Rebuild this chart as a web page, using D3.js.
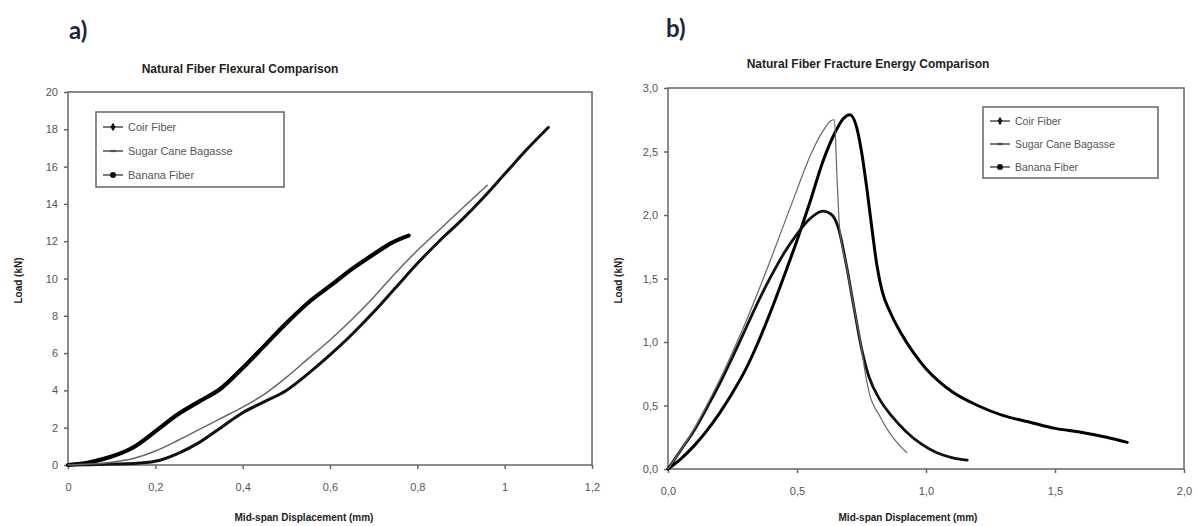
<!DOCTYPE html>
<html>
<head>
<meta charset="utf-8">
<script src="https://cdn.jsdelivr.net/npm/d3@7"></script>
<style>
  body { margin: 0; background: #fff; }
  svg { font-family: Arial, "Liberation Sans", sans-serif; }
  .axis path, .axis line { stroke: #666; stroke-width: 1.5; }
  .axis text { fill: #555; font-size: 11px; }
</style>
</head>
<body>
<svg id="chart" width="1197" height="526"></svg>
<script>
// series names shared by both panels
const seriesNames = ["Coir Fiber", "Sugar Cane Bagasse", "Banana Fiber"]

// panel a) flexural load vs displacement, [mm, kN]
const coirFlex = [[0,0],[0.05,0.02],[0.1,0.05],[0.15,0.08],[0.2,0.2],[0.25,0.6],[0.3,1.2],[0.35,2.0],[0.4,2.8],[0.45,3.4],[0.5,4.0],[0.55,4.9],[0.6,5.9],[0.65,7.0],[0.7,8.2],[0.75,9.5],[0.8,10.8],[0.85,12.0],[0.9,13.1],[0.95,14.3],[1.0,15.6],[1.05,16.9],[1.1,18.1]]
const sugarFlex = [[0,0],[0.05,0.05],[0.1,0.15],[0.15,0.35],[0.2,0.75],[0.25,1.3],[0.3,1.9],[0.35,2.5],[0.4,3.1],[0.45,3.8],[0.5,4.7],[0.55,5.7],[0.6,6.7],[0.65,7.8],[0.7,9.0],[0.75,10.3],[0.8,11.5],[0.85,12.6],[0.9,13.7],[0.96,15.0]]
const bananaFlex = [[0,0],[0.05,0.15],[0.1,0.45],[0.15,0.95],[0.2,1.8],[0.25,2.7],[0.3,3.4],[0.35,4.1],[0.4,5.2],[0.45,6.4],[0.5,7.6],[0.55,8.7],[0.6,9.6],[0.65,10.5],[0.7,11.3],[0.74,11.9],[0.78,12.3]]
const flexXTicks = [0, 0.2, 0.4, 0.6, 0.8, 1, 1.2]
const flexYTicks = [0, 2, 4, 6, 8, 10, 12, 14, 16, 18, 20]

// panel b) fracture energy load vs displacement, [mm, kN]
const coirFrac = [[0,0],[0.05,0.15],[0.1,0.3],[0.15,0.48],[0.2,0.67],[0.25,0.88],[0.3,1.1],[0.35,1.32],[0.4,1.52],[0.45,1.7],[0.5,1.85],[0.55,1.97],[0.6,2.03],[0.63,2.01],[0.66,1.9],[0.69,1.62],[0.72,1.28],[0.75,0.95],[0.78,0.72],[0.82,0.55],[0.87,0.41],[0.92,0.3],[0.98,0.2],[1.04,0.13],[1.1,0.09],[1.16,0.07]]
const sugarFrac = [[0,0],[0.05,0.15],[0.1,0.31],[0.15,0.5],[0.2,0.7],[0.25,0.92],[0.3,1.15],[0.35,1.4],[0.4,1.66],[0.45,1.93],[0.5,2.2],[0.55,2.46],[0.6,2.66],[0.63,2.74],[0.645,2.75],[0.655,2.3],[0.665,1.9],[0.69,1.62],[0.72,1.28],[0.75,0.95],[0.765,0.75],[0.78,0.6],[0.82,0.42],[0.86,0.28],[0.9,0.18],[0.925,0.13]]
const bananaFrac = [[0,0],[0.05,0.08],[0.1,0.18],[0.15,0.3],[0.2,0.44],[0.25,0.6],[0.3,0.78],[0.35,1.0],[0.4,1.25],[0.45,1.52],[0.5,1.8],[0.55,2.1],[0.6,2.42],[0.65,2.66],[0.68,2.76],[0.705,2.79],[0.73,2.7],[0.75,2.5],[0.77,2.22],[0.79,1.9],[0.81,1.6],[0.83,1.4],[0.86,1.24],[0.9,1.08],[0.95,0.92],[1.0,0.79],[1.05,0.69],[1.1,0.61],[1.2,0.5],[1.3,0.42],[1.4,0.37],[1.5,0.32],[1.6,0.29],[1.7,0.25],[1.78,0.21]]
const fracXTicks = [0, 0.5, 1.0, 1.5, 2.0]
const fracYTicks = [0, 0.5, 1.0, 1.5, 2.0, 2.5, 3.0]

// comma decimals like the original figure
const locale = d3.formatLocale({ decimal: ",", thousands: ".", grouping: [3], currency: ["", ""] })

const svg = d3.select("#chart")

// line looks per series: coir, sugar cane, banana
const styles = [
    { stroke: "#111", marker: "diamond" },
    { stroke: "#666", marker: "dash" },
    { stroke: "#000", marker: "circle" }
]

let drawPanel = function(cfg) {
    const x = d3.scaleLinear().domain(cfg.xDomain).range([cfg.left, cfg.right])
    const y = d3.scaleLinear().domain(cfg.yDomain).range([cfg.bottom, cfg.top])

    svg.append("text")
        .attr("x", cfg.letterX).attr("y", cfg.letterY)
        .style("font-family", "Lato, 'Open Sans', sans-serif")
        .style("font-weight", "bold").style("font-size", "24px")
        .attr("fill", "#1d2640")
        .text(cfg.letter)

    svg.append("text")
        .attr("x", cfg.titleX).attr("y", cfg.titleY)
        .attr("text-anchor", "middle")
        .style("font-weight", "bold").style("font-size", "12px")
        .attr("fill", "#222")
        .text(cfg.title)

    // frame
    svg.append("rect")
        .attr("x", cfg.left).attr("y", cfg.top)
        .attr("width", cfg.right - cfg.left).attr("height", cfg.bottom - cfg.top)
        .attr("fill", "none").attr("stroke", "#666").attr("stroke-width", 1.5)

    svg.append("g")
        .attr("class", "axis")
        .attr("transform", `translate(0,${cfg.bottom})`)
        .call(d3.axisBottom(x).tickValues(cfg.xTicks).tickSize(4).tickPadding(14).tickFormat(locale.format(cfg.xFormat)))
        .call(g => g.select(".domain").remove())

    svg.append("g")
        .attr("class", "axis")
        .attr("transform", `translate(${cfg.left},0)`)
        .call(d3.axisLeft(y).tickValues(cfg.yTicks).tickSize(4).tickPadding(6).tickFormat(locale.format(cfg.yFormat)))
        .call(g => g.select(".domain").remove())

    svg.append("text")
        .attr("transform", `translate(${cfg.yLabelX},${(cfg.top + cfg.bottom) / 2 + 2}) rotate(-90)`)
        .attr("text-anchor", "middle")
        .style("font-weight", "bold").style("font-size", "10px")
        .attr("fill", "#222")
        .text("Load (kN)")

    svg.append("text")
        .attr("x", cfg.xLabelX).attr("y", 521)
        .attr("text-anchor", "middle")
        .style("font-weight", "bold").style("font-size", "10px")
        .attr("fill", "#222")
        .text("Mid-span Displacement (mm)")

    const line = d3.line()
        .x(d => x(d[0]))
        .y(d => y(d[1]))
        .curve(d3.curveMonotoneX)

    // draw sugar cane last so the thin grey line stays visible
    const order = [2, 0, 1]
    order.forEach(i => {
        svg.append("path")
            .datum(cfg.series[i])
            .attr("fill", "none")
            .attr("stroke", styles[i].stroke)
            .attr("stroke-width", cfg.widths[i])
            .attr("stroke-linecap", "round")
            .attr("stroke-linejoin", "round")
            .attr("d", line)
    })

    // legend
    const lg = svg.append("g").attr("transform", `translate(${cfg.legend.x},${cfg.legend.y})`)
    lg.append("rect")
        .attr("width", cfg.legend.w).attr("height", cfg.legend.h)
        .attr("fill", "#fff").attr("stroke", "#666").attr("stroke-width", 1.5)
    seriesNames.forEach((name, i) => {
        const ry = cfg.legend.first + i * cfg.legend.step
        const row = lg.append("g").attr("transform", `translate(0,${ry})`)
        row.append("line")
            .attr("x1", 7).attr("x2", 27)
            .attr("stroke", "#333").attr("stroke-width", 1.3)
        if (styles[i].marker === "diamond") {
            row.append("path").attr("d", d3.symbol(d3.symbolDiamond, 22)()).attr("transform", "translate(17,0)").attr("fill", "#111")
        } else if (styles[i].marker === "circle") {
            row.append("circle").attr("cx", 17).attr("r", 3).attr("fill", "#111")
        } else {
            row.append("line").attr("x1", 14).attr("x2", 20).attr("stroke", "#555").attr("stroke-width", 2.2)
        }
        row.append("text")
            .attr("x", 32).attr("dy", "0.35em")
            .style("font-size", cfg.legend.font)
            .attr("fill", "#555")
            .text(name)
    })
}

drawPanel({
    letter: "a)", letterX: 69, letterY: 39,
    title: "Natural Fiber Flexural Comparison", titleX: 240, titleY: 73,
    left: 68, right: 592, top: 92, bottom: 465,
    xDomain: [0, 1.2], yDomain: [0, 20],
    xTicks: flexXTicks, yTicks: flexYTicks, xFormat: "~g", yFormat: "~g",
    yLabelX: 22, xLabelX: 304,
    series: [coirFlex, sugarFlex, bananaFlex],
    widths: [3, 1.5, 4.2],
    legend: { x: 96, y: 112, w: 188, h: 75, first: 15, step: 24, font: "11px" }
})

drawPanel({
    letter: "b)", letterX: 666, letterY: 37,
    title: "Natural Fiber Fracture Energy Comparison", titleX: 868, titleY: 68,
    left: 668, right: 1184, top: 88, bottom: 469,
    xDomain: [0, 2.0], yDomain: [0, 3.0],
    xTicks: fracXTicks, yTicks: fracYTicks, xFormat: ".1f", yFormat: ".1f",
    yLabelX: 622, xLabelX: 908,
    series: [coirFrac, sugarFrac, bananaFrac],
    widths: [2.8, 1.2, 3],
    legend: { x: 983, y: 107, w: 175, h: 71, first: 14, step: 23, font: "10.5px" }
})
</script>
</body>
</html>
